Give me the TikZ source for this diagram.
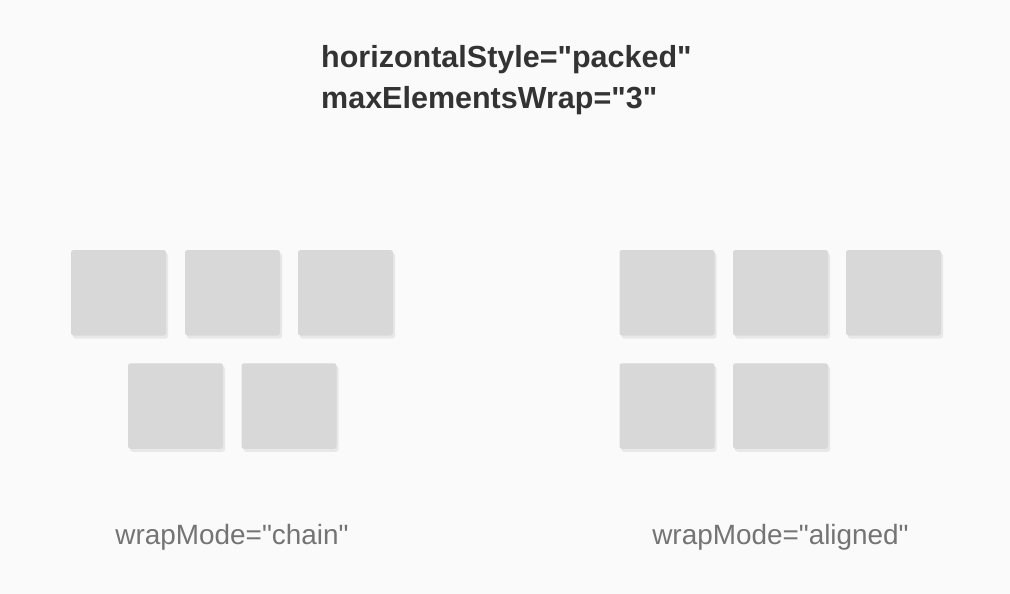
\documentclass[tikz,border=0pt]{standalone}
\usepackage{fontspec}
\setmainfont{Liberation Sans}[Ligatures=TeXOff]
\usetikzlibrary{shadows}
\definecolor{bg}{HTML}{FAFAFA}
\definecolor{boxfill}{HTML}{D8D8D8}
\definecolor{boxshadow}{HTML}{E8E8E8}
\definecolor{titlecol}{HTML}{333333}
\definecolor{labelcol}{HTML}{747474}
\tikzset{
  cell/.style={rectangle, rounded corners=2.5pt, fill=boxfill, draw=none,
    minimum width=95pt, minimum height=85.5pt, inner sep=0pt,
    drop shadow={shadow xshift=2pt, shadow yshift=-3pt, fill=boxshadow, opacity=1}},
  titletext/.style={anchor=base west, inner sep=0pt, text=titlecol,
    font=\fontsize{30.5}{36}\selectfont\bfseries},
  labeltext/.style={anchor=base, inner sep=0pt, text=labelcol,
    font=\fontsize{27.9}{34}\selectfont}
}
\begin{document}
\begin{tikzpicture}[x=1pt, y=-1pt]
\fill[bg] (0,0) rectangle (1010,594);
\useasboundingbox (0,0) rectangle (1010,594);
% title
\node[titletext] (t1) at (321,67) {horizontalStyle="packed"};
\node[titletext] (t2) at (321,109) {maxElementsWrap="3"};
% left group (chain)
\node[cell] (l1) at (118.5,292.75) {};
\node[cell] (l2) at (232.5,292.75) {};
\node[cell] (l3) at (345.5,292.75) {};
\node[cell] (l4) at (175.5,406) {};
\node[cell] (l5) at (289,406) {};
% right group (aligned)
\node[cell] (r1) at (667,292.75) {};
\node[cell] (r2) at (780.5,292.75) {};
\node[cell] (r3) at (893.5,292.75) {};
\node[cell] (r4) at (667,406) {};
\node[cell] (r5) at (780.5,406) {};
% labels
\node[labeltext] (lc) at (232,544) {wrapMode="chain"};
\node[labeltext] (la) at (780.5,544) {wrapMode="aligned"};
\end{tikzpicture}
\end{document}
